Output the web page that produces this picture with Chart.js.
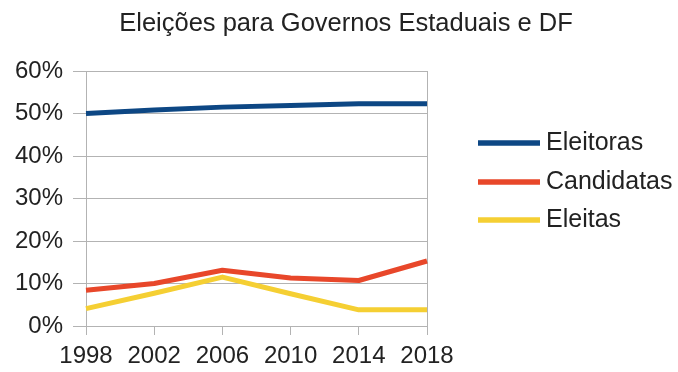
<!DOCTYPE html>
<html>
<head>
<meta charset="utf-8">
<script src="https://cdn.jsdelivr.net/npm/chart.js@4"></script>
<style>
html,body{margin:0;padding:0;background:#fff;}
canvas{display:block;}
</style>
</head>
<body>
<canvas id="c" width="678" height="372"></canvas>
<script>
const title = "Eleições para Governos Estaduais e DF";
const years = ["1998", "2002", "2006", "2010", "2014", "2018"];
const seriesNames = ["Eleitoras", "Candidatas", "Eleitas"];
const eleitoras = [50.0, 50.8, 51.5, 51.9, 52.3, 52.3];
const candidatas = [8.4, 10.0, 13.1, 11.3, 10.7, 15.3];
const eleitas = [4.1, 7.7, 11.5, 7.6, 3.8, 3.8];
const colors = ["#0d4784", "#e8472a", "#f5cf33"];

const FONT = "'Liberation Sans', Arial, sans-serif";
const GRID = "#b3b3b3";

const overlay = {
  id: "overlay",
  afterDraw(chart) {
    const ctx = chart.ctx;
    ctx.save();
    ctx.fillStyle = "#222";
    ctx.font = "25.5px " + FONT;
    ctx.textAlign = "center";
    ctx.textBaseline = "middle";
    ctx.fillText(title, 346, 24);
    // legend
    ctx.font = "25px " + FONT;
    ctx.textAlign = "left";
    const rows = [143, 182, 220];
    chart.data.datasets.forEach((ds, i) => {
      const y = rows[i];
      ctx.strokeStyle = ds.borderColor;
      ctx.lineWidth = 5.5;
      ctx.beginPath();
      ctx.moveTo(478, y);
      ctx.lineTo(540, y);
      ctx.stroke();
      ctx.fillStyle = "#222";
      ctx.fillText(ds.label, 546, y);
    });
    ctx.restore();
  }
};

new Chart(document.getElementById("c"), {
  type: "line",
  data: {
    labels: years,
    datasets: [eleitoras, candidatas, eleitas].map((d, i) => ({
      label: seriesNames[i],
      data: d,
      borderColor: colors[i],
      backgroundColor: colors[i],
      borderWidth: 5,
      pointRadius: 0,
      tension: 0,
      borderJoinStyle: "round",
      fill: false
    }))
  },
  options: {
    responsive: false,
    animation: false,
    devicePixelRatio: 1,
    layout: { padding: { top: 71, right: 251, left: 0, bottom: 0 } },
    plugins: {
      legend: { display: false },
      title: { display: false },
      tooltip: { enabled: false }
    },
    scales: {
      x: {
        offset: false,
        grid: {
          color: (c) => (c.index === years.length - 1 ? GRID : "rgba(0,0,0,0)"),
          tickColor: GRID,
          tickLength: 9,
          drawOnChartArea: true
        },
        border: { display: true, color: GRID },
        ticks: {
          color: "#222",
          font: { family: FONT, size: 24 },
          padding: 7,
          maxRotation: 0,
          autoSkip: false
        },
        afterFit: (s) => { s.height = 46; }
      },
      y: {
        min: 0,
        max: 60,
        grid: { color: GRID, tickColor: GRID, tickLength: 13 },
        border: { display: true, color: GRID },
        ticks: {
          stepSize: 10,
          color: "#222",
          font: { family: FONT, size: 24 },
          padding: 10,
          callback: (v) => v + "%"
        },
        afterFit: (s) => { s.width = 86; }
      }
    }
  },
  plugins: [overlay]
});
</script>
</body>
</html>
